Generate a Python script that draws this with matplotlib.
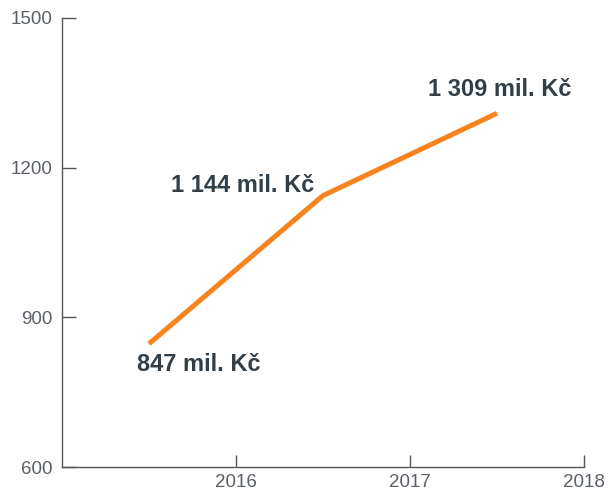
import numpy as np
import matplotlib.pyplot as plt

# Data
years = [2015.5, 2016.5, 2017.5]
values = [847, 1144, 1309]
labels = ['847 mil. Kč', '1 144 mil. Kč', '1 309 mil. Kč']
xticks = [2016, 2017, 2018]
yticks = [600, 900, 1200, 1500]

plt.rcParams['font.family'] = ['Liberation Sans', 'DejaVu Sans']

fig = plt.figure(figsize=(6.09, 4.92), dpi=100)
ax = fig.add_axes([62/609, 25/492, 522/609, 449/492])

ax.plot(years, values, color='#f7831f', linewidth=3.6, solid_capstyle='butt')

# label offsets in points relative to each point
offsets = [(36, -15), (-58, 7), (2, 17)]
for x, y, txt, off in zip(years, values, labels, offsets):
    ax.annotate(txt, (x, y), xytext=off, textcoords='offset points',
                ha='center', va='center', fontsize=17, fontweight='bold',
                color='#333f48')

ax.set_xlim(2015, 2018)
ax.set_ylim(600, 1500)
ax.set_xticks(xticks)
ax.set_yticks(yticks)
ax.tick_params(direction='in', length=9, width=1, color='#555555',
               labelsize=13.5, labelcolor='#5a6066', pad=5)
ax.tick_params(axis='y', length=10, pad=7)

for side in ['top', 'right']:
    ax.spines[side].set_visible(False)
for side in ['left', 'bottom']:
    ax.spines[side].set_color('#555555')
    ax.spines[side].set_linewidth(1)

plt.savefig('out.png', dpi=100)
